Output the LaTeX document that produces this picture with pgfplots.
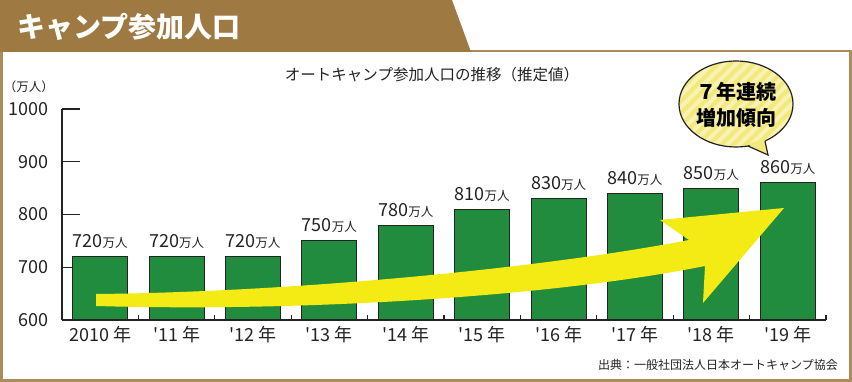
\documentclass[border=0pt]{standalone}
\usepackage{fontspec}
\setmainfont{Noto Sans CJK JP}
\usepackage{pgfplots}
\pgfplotsset{compat=1.18}
\definecolor{brown1}{RGB}{158,122,66}
\definecolor{frame1}{RGB}{172,140,92}
\definecolor{bargreen}{RGB}{33,140,61}
\definecolor{arrowy}{RGB}{245,235,20}
\definecolor{bubble}{RGB}{243,233,122}
\definecolor{txt}{RGB}{35,35,35}
\begin{document}
\begin{tikzpicture}[x=1pt,y=1pt]
\useasboundingbox (0,0) rectangle (852,382);
\fill[white] (0,0) rectangle (852,382);
\draw[frame1, line width=2.5pt] (1.5,1.5) rectangle (850.5,331);
\fill[brown1] (0,382) -- (452,382) -- (471,330) -- (0,330) -- cycle;
\node[anchor=west, text=white, inner sep=0pt, font=\fontsize{28}{30}\selectfont\bfseries] at (17,355) {キャンプ参加人口};
\node[text=txt, inner sep=0pt, font=\fontsize{15.5}{16}\selectfont] at (432,307) {オートキャンプ参加人口の推移（推定値）};
\node[text=txt, inner sep=0pt, font=\fontsize{12.5}{13}\selectfont] at (29,295) {（万人）};
\node[anchor=east, text=txt, inner sep=0pt, font=\fontsize{12}{12}\selectfont] at (838,17) {出典：一般社団法人日本オートキャンプ協会};

\begin{axis}[at={(62pt,62pt)}, anchor=south west, scale only axis,
  width=764pt, height=211pt,
  xmin=-0.5, xmax=9.5, ymin=600, ymax=1000,
  axis x line=bottom, axis y line=left,
  axis line style={-, line width=1.5pt, draw=txt},
  tick align=inside, major tick length=5pt,
  tick style={draw=txt, line width=1.2pt},
  xtick={0.5,1.5,...,9.5}, xticklabels={},
  extra x ticks={0,1,2,3,4,5,6,7,8,9},
  extra x tick labels={2010 年,\textquotesingle 11 年,\textquotesingle 12 年,\textquotesingle 13 年,\textquotesingle 14 年,\textquotesingle 15 年,\textquotesingle 16 年,\textquotesingle 17 年,\textquotesingle 18 年,\textquotesingle 19 年},
  extra x tick style={major tick length=0pt},
  xticklabel style={font=\fontsize{18}{18}\selectfont, text=txt, inner sep=0pt, anchor=base, yshift=-22pt},
  ytick={600,700,800,900,1000},
  extra y ticks={700,800,900,1000}, extra y tick labels={},
  extra y tick style={major tick length=18pt},
  yticklabel style={font=\fontsize{18}{18}\selectfont, text=txt, inner sep=0pt, xshift=-13pt},
  /pgf/number format/1000 sep={},
  /pgf/number format/assume math mode=true,
]
\addplot[ybar, bar width=55pt, bar shift=0pt, fill=bargreen, draw=txt, line width=1pt,
  point meta=explicit symbolic,
  nodes near coords={\fontsize{18}{18}\selectfont\pgfplotspointmeta\fontsize{12.5}{12}\selectfont 万人},
  every node near coord/.append style={anchor=base, yshift=9pt, inner sep=0pt, text=txt}]
  table[x=x, y=y, meta=lab] {
x y lab
0 720 720
1 720 720
2 720 720
3 750 750
4 780 780
5 810 810
6 830 830
7 840 840
8 850 850
9 860 860
};
\end{axis}

% arrow
\fill[arrowy] (96,76) .. controls (300,70) and (550,85) .. (705,116) -- (703,79) -- (784,174) -- (660,162) -- (689,142) .. controls (550,115) and (300,90) .. (96,88) -- cycle;

% callout
\fill[bubble] (736,278) ellipse [x radius=57, y radius=43];
\begin{scope}
\clip (736,278) ellipse [x radius=57, y radius=43];
\foreach \i in {-160,-148,...,160} {
  \draw[white, opacity=0.45, line width=4pt] (736+\i-70,278-70) -- ++(140,140);
}
\end{scope}
\draw[txt, line width=1.2pt] (736,278) ellipse [x radius=57, y radius=43];
\fill[bubble] (747,238) -- (768,227) -- (765,243) -- cycle;
\draw[txt, line width=1.2pt, line join=miter] (748,236) -- (768,227) -- (765,241);
\node[text=black, inner sep=0pt, font=\fontsize{20}{22}\selectfont\bfseries] at (736,290) {７年連続};
\node[text=black, inner sep=0pt, font=\fontsize{20}{22}\selectfont\bfseries] at (736,264) {増加傾向};
\end{tikzpicture}
\end{document}
